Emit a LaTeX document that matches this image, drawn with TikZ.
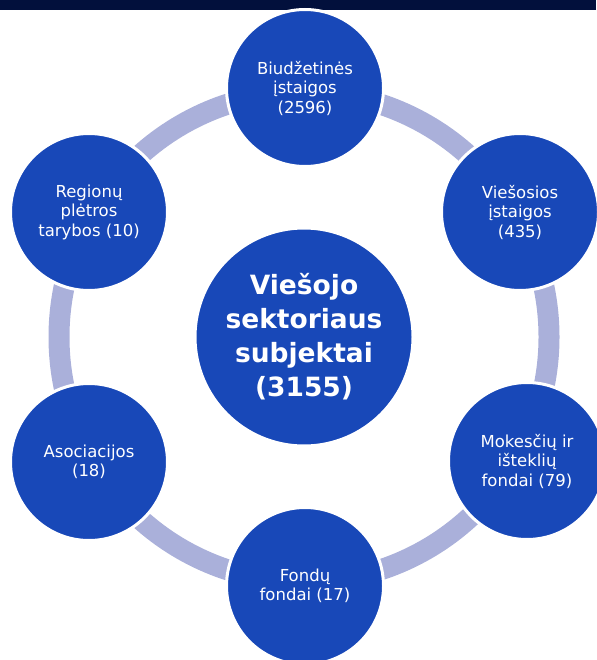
\documentclass[tikz,border=0pt]{standalone}
\usepackage{fontspec}
\setmainfont{DejaVu Sans}
\usetikzlibrary{positioning}
\definecolor{juosta}{HTML}{02103C}
\definecolor{melyna}{HTML}{1848B8}
\definecolor{ziedas}{HTML}{AAB0DA}

\begin{document}
\begin{tikzpicture}[x=1pt,y=-1pt,
    subj/.style={circle, fill=melyna, draw=white, line width=3pt, minimum size=157pt, inner sep=0pt,
        text=white, align=center, font=\fontsize{16.5}{19.5}\selectfont},
    centras/.style={circle, fill=melyna, draw=white, line width=3pt, minimum size=218pt, inner sep=0pt,
        text=white, align=center, font=\fontsize{26.5}{34}\selectfont\bfseries}]
    \useasboundingbox (0,0) rectangle (596,660);
    %tamsi juosta
    \fill [juosta] (0,0) rectangle (596,10);
    %ziedas
    \draw [ziedas, line width=21pt] (304,337) circle (245pt);
    %centras
    \node [centras] (vs) at (304,337) {Viešojo\\sektoriaus\\subjektai\\(3155)};
    %apskritimai
    \node [subj] (bi) at (305,88) {Biudžetinės\\įstaigos\\(2596)};
    \node [subj] (vi) at (520,212) {Viešosios\\įstaigos\\(435)};
    \node [subj] (mi) at (527,461) {Mokesčių ir\\išteklių\\fondai (79)};
    \node [subj] (ff) at (305,586) {Fondų\\fondai (17)};
    \node [subj] (as) at (89,462) {Asociacijos\\(18)};
    \node [subj] (rp) at (89,212) {Regionų\\plėtros\\tarybos (10)};
\end{tikzpicture}
\end{document}
